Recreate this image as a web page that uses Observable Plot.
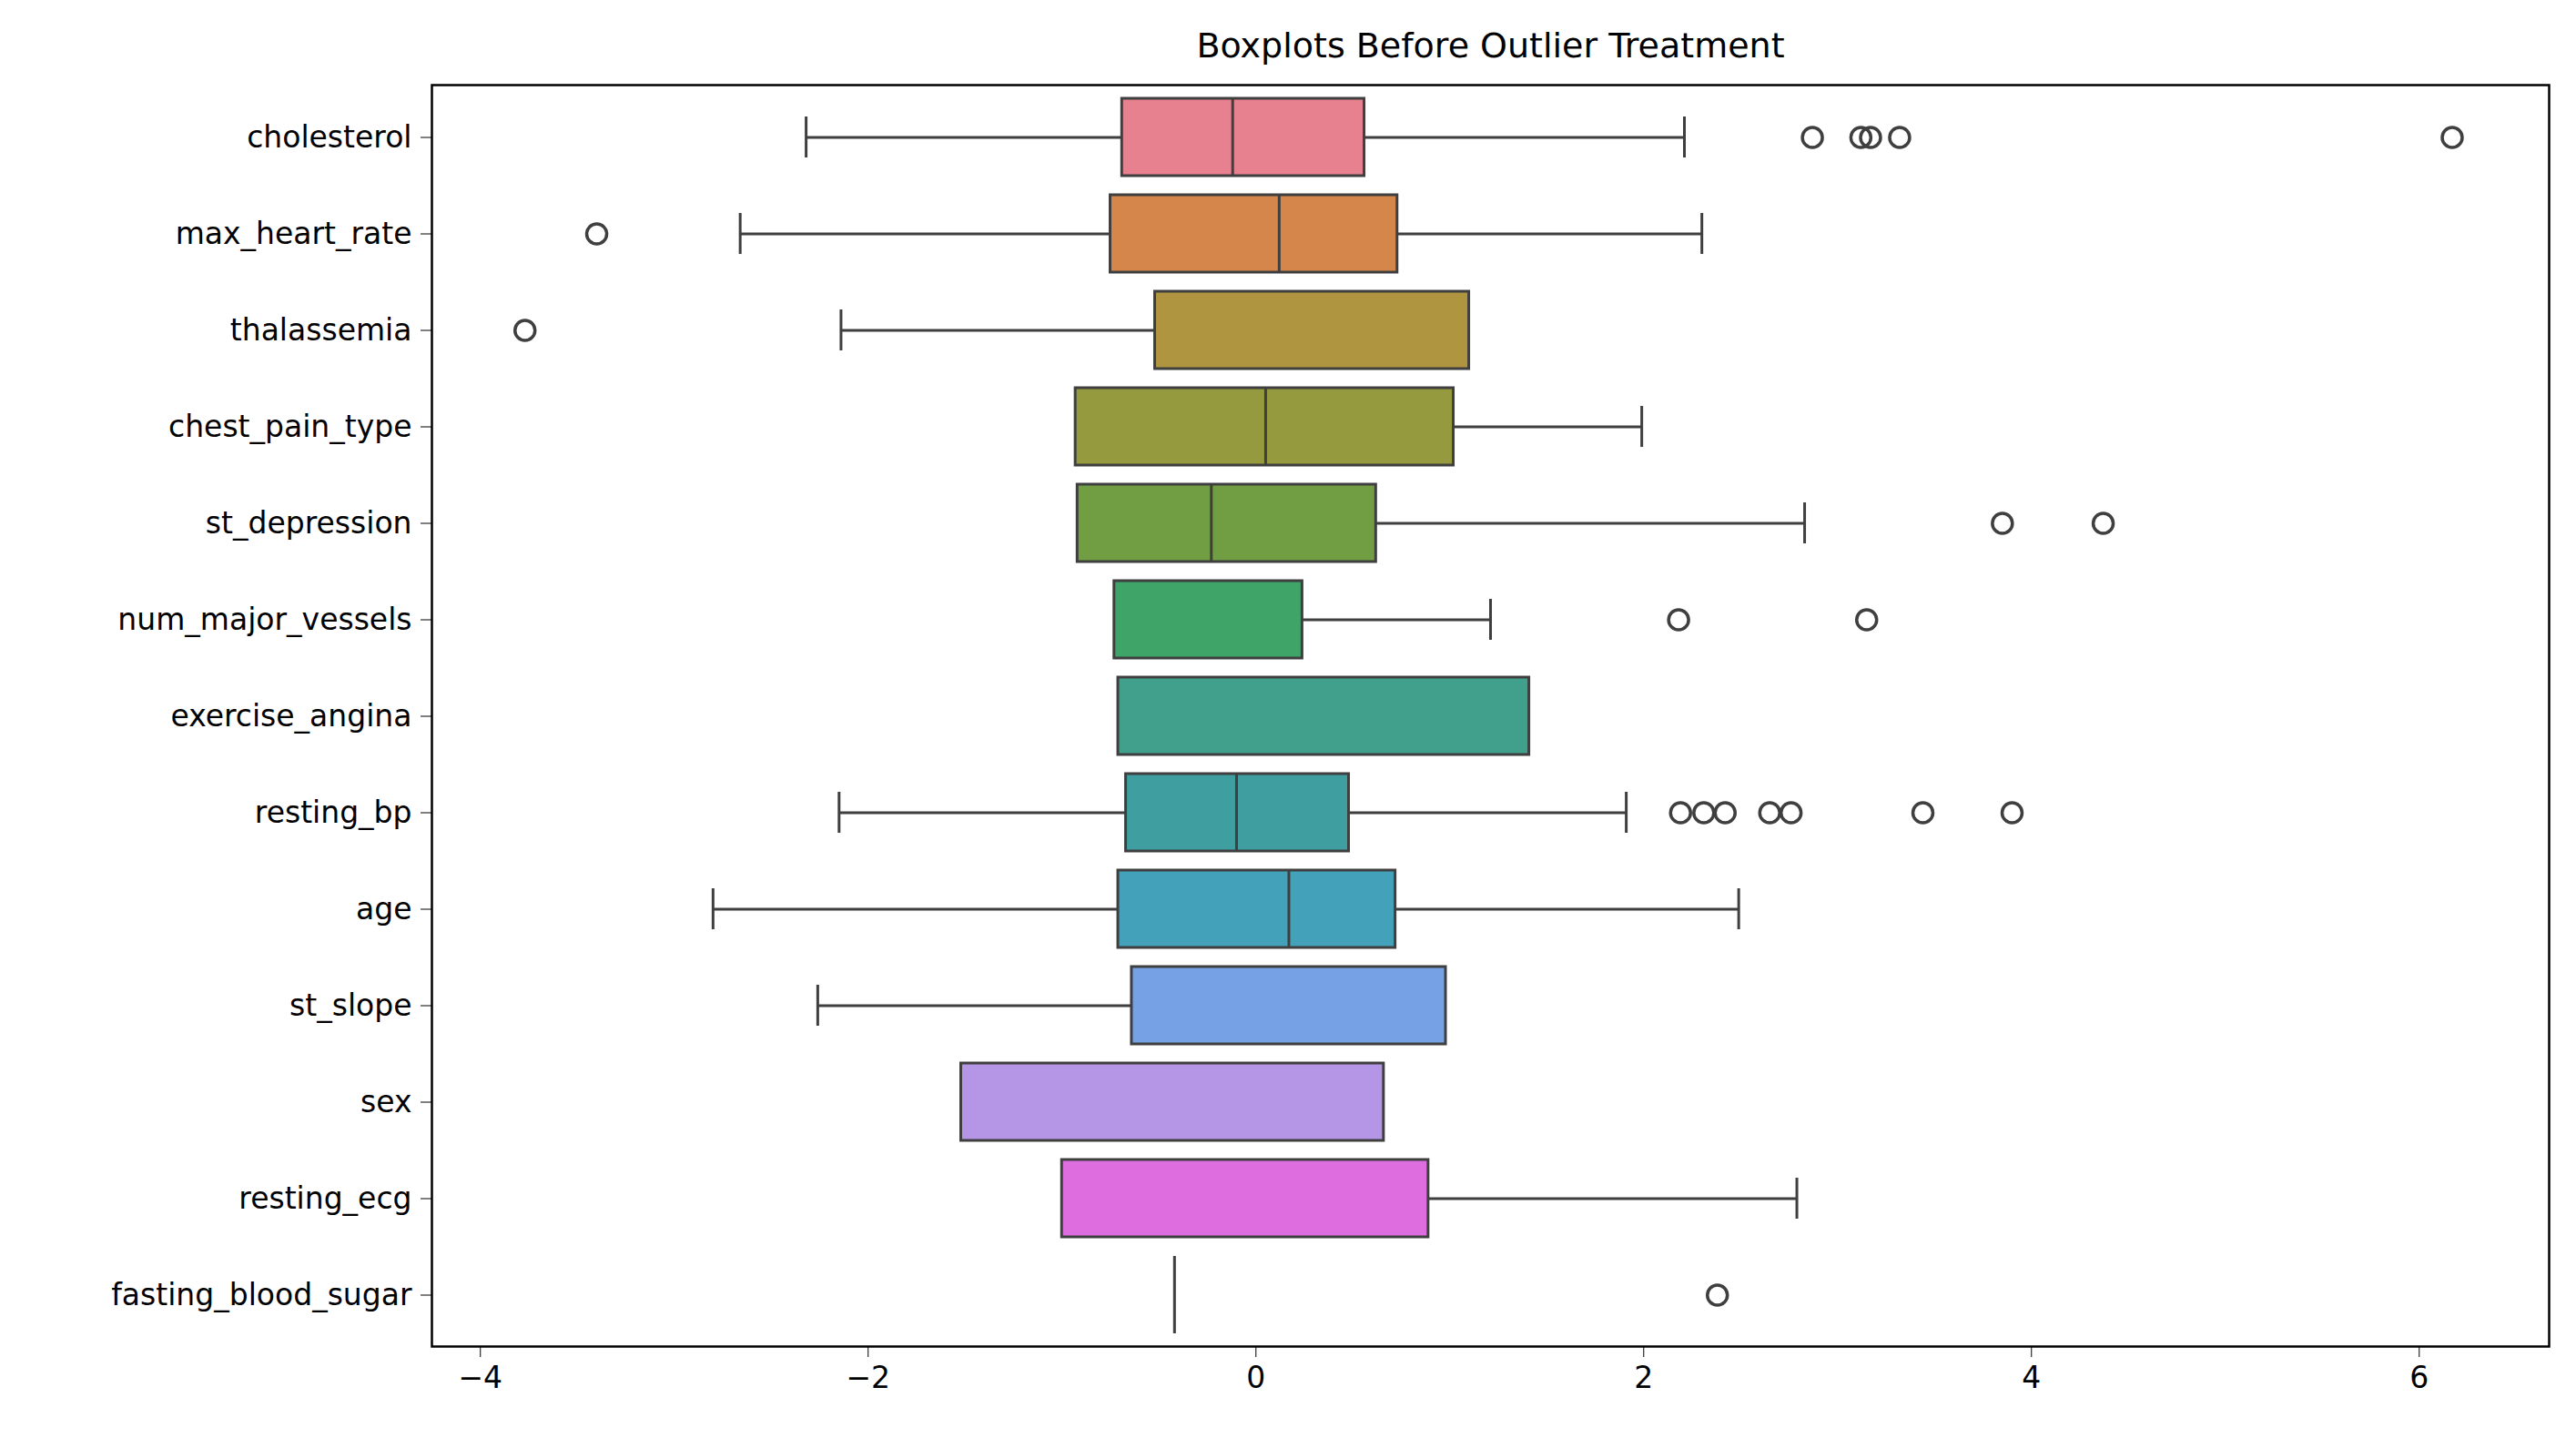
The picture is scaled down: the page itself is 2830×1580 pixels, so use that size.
<!DOCTYPE html>
<html>
<head>
<meta charset="utf-8">
<script src="https://cdn.jsdelivr.net/npm/d3@7"></script>
<script src="https://cdn.jsdelivr.net/npm/@observablehq/plot@0.6"></script>
<style>
  body { margin: 0; background: white; font-family: "DejaVu Sans", sans-serif; }
  #title { height: 70px; line-height: 100px; text-align: center; font-size: 38px; padding-left: 445px; box-sizing: border-box; width: 2830px; }
</style>
</head>
<body>
<div id="title">Boxplots Before Outlier Treatment</div>
<div id="chart"></div>
<script>
const variables = ["cholesterol", "max_heart_rate", "thalassemia", "chest_pain_type", "st_depression",
  "num_major_vessels", "exercise_angina", "resting_bp", "age", "st_slope", "sex", "resting_ecg", "fasting_blood_sugar"]
const lowerWhisker = [-2.32, -2.66, -2.14, -0.93, -0.92, -0.73, -0.71, -2.15, -2.80, -2.26, -1.52, -1.00, -0.42]
const q1 = [-0.69, -0.75, -0.52, -0.93, -0.92, -0.73, -0.71, -0.67, -0.71, -0.64, -1.52, -1.00, -0.42]
const median = [-0.12, 0.12, 1.10, 0.05, -0.23, -0.73, -0.71, -0.10, 0.17, 0.98, 0.66, 0.89, -0.42]
const q3 = [0.56, 0.73, 1.10, 1.02, 0.62, 0.24, 1.41, 0.48, 0.72, 0.98, 0.66, 0.89, -0.42]
const upperWhisker = [2.21, 2.30, 1.10, 1.99, 2.83, 1.21, 1.41, 1.91, 2.49, 0.98, 0.66, 2.79, -0.42]
const outliers = [
  [2.87, 3.12, 3.17, 3.32, 6.17],
  [-3.40],
  [-3.77],
  [],
  [3.85, 4.37],
  [2.18, 3.15],
  [],
  [2.19, 2.31, 2.42, 2.65, 2.76, 3.44, 3.90],
  [],
  [],
  [],
  [],
  [2.38]
]
const colors = ["#e7808f", "#d5874b", "#b09540", "#969a3e", "#719e42", "#3fa468", "#41a08c", "#3f9ea0",
  "#43a1ba", "#76a1e4", "#b595e6", "#de6edf", "#e07cb0"]

const rows = variables.map((v, i) => ({v, lo: lowerWhisker[i], q1: q1[i], med: median[i], q3: q3[i], hi: upperWhisker[i], color: colors[i]}))
const boxes = rows.filter(d => d.q3 > d.q1)
const meds = rows.filter(d => d.med > d.q1 && d.med < d.q3)
const lowW = rows.filter(d => d.lo < d.q1)
const highW = rows.filter(d => d.hi > d.q3)
const flat = rows.filter(d => d.q3 === d.q1)
const dots = variables.flatMap((v, i) => outliers[i].map(x => ({v, x})))

const line = "#3f3f3f"
const chart = Plot.plot({
  width: 2830,
  height: 1510,
  marginTop: 23,
  marginBottom: 101,
  marginLeft: 474,
  marginRight: 30,
  style: {fontSize: "33px", fontFamily: "DejaVu Sans, sans-serif", color: "black"},
  x: {domain: [-4.25, 6.67], ticks: [-4, -2, 0, 2, 4, 6], tickSize: 12, tickPadding: 10, label: null},
  y: {domain: variables, paddingInner: 0.2, paddingOuter: 0.1, tickSize: 12, tickPadding: 10, label: null},
  marks: [
    Plot.ruleY(lowW, {y: "v", x1: "lo", x2: "q1", stroke: line, strokeWidth: 3}),
    Plot.ruleY(highW, {y: "v", x1: "q3", x2: "hi", stroke: line, strokeWidth: 3}),
    Plot.tickX(lowW, {y: "v", x: "lo", stroke: line, strokeWidth: 3, insetTop: 20, insetBottom: 20}),
    Plot.tickX(highW, {y: "v", x: "hi", stroke: line, strokeWidth: 3, insetTop: 20, insetBottom: 20}),
    Plot.barX(boxes, {y: "v", x1: "q1", x2: "q3", fill: "color", stroke: line, strokeWidth: 3}),
    Plot.tickX(meds, {y: "v", x: "med", stroke: line, strokeWidth: 3}),
    Plot.tickX(flat, {y: "v", x: "q1", stroke: line, strokeWidth: 3}),
    Plot.dot(dots, {y: "v", x: "x", r: 11, stroke: line, strokeWidth: 3.5, fill: "none"}),
    Plot.frame({stroke: "black", strokeWidth: 2.5})
  ]
})
document.getElementById("chart").append(chart)
</script>
</body>
</html>
